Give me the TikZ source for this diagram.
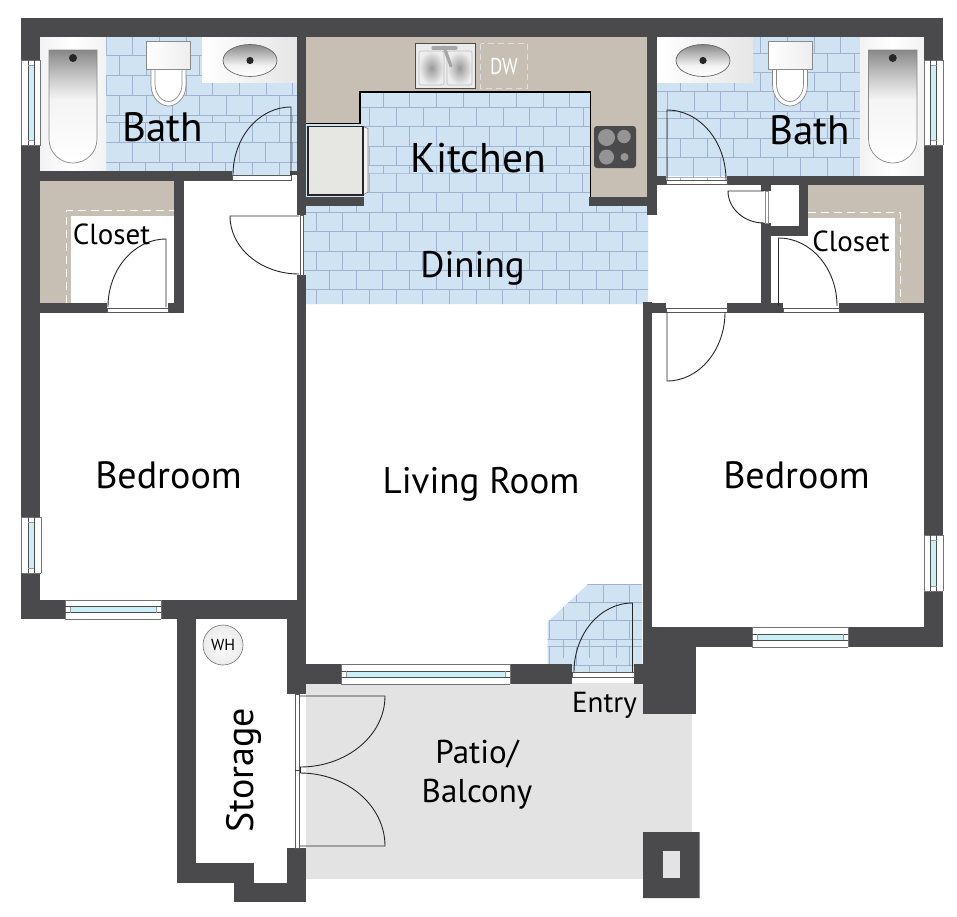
\documentclass[tikz,border=0pt]{standalone}
\usepackage{fontspec}
\setmainfont{PT Sans}
\definecolor{wallc}{HTML}{4A4A4C}
\definecolor{beige}{HTML}{C7BFB3}
\definecolor{floorblue}{HTML}{CFE3F2}
\definecolor{tileline}{HTML}{9FB3D1}
\definecolor{patioc}{HTML}{E3E3E3}
\definecolor{glass}{HTML}{C9F0F7}
\definecolor{fixedge}{HTML}{8A8A8A}
\definecolor{fridgec}{HTML}{E6E6E3}
\definecolor{tubhi}{HTML}{F4F4F4}
\definecolor{tubmid}{HTML}{E4E4E4}
\definecolor{tubdark}{HTML}{C8C8C8}
\definecolor{tubtop}{HTML}{888888}
\pgfdeclareverticalshading{tubshade}{100bp}{color(0bp)=(white);color(25bp)=(white);color(53bp)=(tubhi);color(57bp)=(tubmid);color(63bp)=(tubdark);color(75bp)=(tubtop);color(100bp)=(tubtop)}
\pgfdeclareverticalshading{basinshade}{100bp}{color(0bp)=(white);color(25bp)=(white);color(42bp)=(tubhi);color(55bp)=(tubdark);color(75bp)=(tubtop);color(100bp)=(tubtop)}
\tikzset{
  wallpart/.style={fill=wallc,draw=none},
  doorline/.style={draw=black!85,line width=0.9pt,line join=miter},
  framepart/.style={fill=white,draw=black!65,line width=0.7pt},
  winpart/.style={fill=white,draw=black!55,line width=0.7pt},
  tilepart/.style={draw=tileline,line width=0.75pt},
  fixture/.style={fill=white!97!black,draw=none},
  label/.style={inner sep=0pt,text=black},
}
\newcommand\fsz[1]{\fontsize{#1}{#1}\selectfont}
% hinge, leaf end, frame end
\newcommand\doorswing[6]{%
  \pgfmathsetmacro\cax{#3+0.5523*(#5-#1)}\pgfmathsetmacro\cay{#4+0.5523*(#6-#2)}%
  \pgfmathsetmacro\cbx{#5+0.5523*(#3-#1)}\pgfmathsetmacro\cby{#6+0.5523*(#4-#2)}%
  \draw[doorline] (#1,#2) -- (#3,#4) .. controls (\cax,\cay) and (\cbx,\cby) .. (#5,#6);}
% xa, ya, rows, row height, columns
\newcommand\tilerows[5]{%
  \foreach \k in {1,...,#3}{%
    \pgfmathsetmacro\ya{#2+(\k-1)*#4}\pgfmathsetmacro\yb{#2+\k*#4}%
    \pgfmathsetmacro\xs{#1+mod(\k-1,2)*13.33}%
    \draw[tilepart] (#1-14,\ya) -- (#1+#5*26.67,\ya);
    \foreach \j in {0,...,#5}{%
      \pgfmathsetmacro\xv{\xs+\j*26.67}%
      \draw[tilepart] (\xv,\ya) -- (\xv,\yb);
    }%
  }%
}
\newcommand\hwin[4]{%
  \fill[white] (#1,#2) rectangle (#3,#4);
  \draw[winpart] (#1,#2) -- (#3,#2) (#1,#4) -- (#3,#4) (#1,#2) -- (#1,#4) (#3,#2) -- (#3,#4);
  \pgfmathsetmacro\mya{(#2+#4)/2-3}\pgfmathsetmacro\myb{(#2+#4)/2+3}%
  \pgfmathsetmacro\mxa{#1+5}\pgfmathsetmacro\mxb{#3-5}%
  \fill[glass] (\mxa,\mya) rectangle (\mxb,\myb);
  \draw[black!70,line width=0.8pt] (#1,\mya) -- (#3,\mya) (#1,\myb) -- (#3,\myb);
  \draw[black!40,line width=0.7pt] (\mxa,\mya) -- (\mxa,\myb) (\mxb,\mya) -- (\mxb,\myb);
}
\newcommand\vwin[4]{%
  \fill[white] (#1,#2) rectangle (#3,#4);
  \draw[winpart] (#1,#2) -- (#3,#2) (#1,#4) -- (#3,#4) (#1,#2) -- (#1,#4) (#3,#2) -- (#3,#4);
  \pgfmathsetmacro\mxa{(#1+#3)/2-3}\pgfmathsetmacro\mxb{(#1+#3)/2+3}%
  \pgfmathsetmacro\mya{#2+5}\pgfmathsetmacro\myb{#4-5}%
  \fill[glass] (\mxa,\mya) rectangle (\mxb,\myb);
  \draw[black!70,line width=0.8pt] (\mxa,#2) -- (\mxa,#4) (\mxb,#2) -- (\mxb,#4);
  \draw[black!40,line width=0.7pt] (\mxa,\mya) -- (\mxb,\mya) (\mxa,\myb) -- (\mxb,\myb);
}
% toilet centred on x, tank top y
\newcommand\toilet[2]{%
  \draw[fill=white,draw=fixedge,line width=0.7pt] (#1-17.5,#2+28) -- (#1-17.5,#2+44) .. controls (#1-17.5,#2+57) and (#1-8,#2+65) .. (#1,#2+65) .. controls (#1+8,#2+65) and (#1+17.5,#2+57) .. (#1+17.5,#2+44) -- (#1+17.5,#2+28) -- cycle;
  \draw[fill=white,draw=fixedge,line width=0.7pt] (#1-13.5,#2+28) -- (#1-13.5,#2+43) .. controls (#1-13.5,#2+53) and (#1-7,#2+60.5) .. (#1,#2+60.5) .. controls (#1+7,#2+60.5) and (#1+13.5,#2+53) .. (#1+13.5,#2+43) -- (#1+13.5,#2+28);
  \shade[left color=white,right color=white!93!black,draw=fixedge,line width=0.7pt] (#1-22,#2) rectangle (#1+22,#2+28);
}
% tub x1,x2 outer, y1,y2 outer, inner x1,x2
\newcommand\tub[6]{%
  \shade[left color=white!95!black,right color=white!95!black,middle color=white] (#1,#3) rectangle (#2,#4);
  \pgfmathsetmacro\tubr{(#6-#5)/2}\pgfmathsetmacro\tubc{(#6+#5)/2}%
  \path[shading=tubshade,draw=fixedge,line width=0.7pt] (#5,50) -- (#6,50) -- (#6,139) .. controls (#6,152.5) and (\tubc+13,163) .. (\tubc,163) .. controls (\tubc-13,163) and (#5,152.5) .. (#5,139) -- cycle;
  \fill[black!85] (\tubc,58) circle (4);
}
\newcommand\basin[1]{%
  \path[shading=basinshade,draw=black!60,line width=0.7pt] (#1,60.5) ellipse (27 and 16);
  \fill[black!85] (#1,60.5) circle (3.6);
}
\begin{document}
\begin{tikzpicture}[x=1pt,y=-1pt]
\useasboundingbox (0,0) rectangle (957,916);
\fill[white] (0,0) rectangle (957,916);

% ---- floors
\fill[patioc] (306,683) rectangle (692,879);
\fill[beige] (306,37) rectangle (647,206);
\fill[beige] (40,181) rectangle (174,303);
\fill[beige] (808,185) rectangle (924,303);
\fill[white] (71,216) rectangle (174,303);
\fill[white] (808,218) rectangle (894.5,303);
\draw[white,line width=0.8pt,dash pattern=on 8pt off 5pt] (66,303) -- (66,210.5) -- (174,210.5);
\draw[white,line width=0.8pt,dash pattern=on 8pt off 5pt] (808,212) -- (900,212) -- (900,303);

% kitchen + dining tile
\fill[floorblue] (306,123.5) -- (360,123.5) -- (360,92) -- (590.5,92) -- (590.5,206) -- (648,206) -- (648,304) -- (303,304) -- (303,206) -- (306,206) -- cycle;
\begin{scope}
  \clip (360,92) rectangle (590.5,173.3);
  \tilerows{303}{87.9}{5}{19.4}{12}
\end{scope}
\begin{scope}
  \clip (306,123.5) -- (360,123.5) -- (360,173.3) -- (590.5,173.3) -- (590.5,206) -- (648,206) -- (648,304) -- (303,304) -- (303,206) -- (306,206) -- cycle;
  \tilerows{289.4}{173.3}{7}{19.4}{15}
\end{scope}
\begin{scope}
  \clip (306,123.5) rectangle (360,173.3);
  \tilerows{303}{87.9}{5}{19.4}{5}
\end{scope}

% left bath tile
\fill[floorblue] (106,37) rectangle (297,175);
\begin{scope}
  \clip (106,37) rectangle (297,122);
  \tilerows{106}{35.7}{5}{20}{8}
\end{scope}
\begin{scope}
  \clip (106,122) rectangle (297,175);
  \tilerows{92.3}{122}{3}{20}{9}
\end{scope}
% right bath tile
\fill[floorblue] (657,37) rectangle (860,176);
\begin{scope}
  \clip (657,37) rectangle (860,118.3);
  \tilerows{654}{33.6}{5}{19.4}{8}
\end{scope}
\begin{scope}
  \clip (657,118.3) rectangle (860,180);
  \tilerows{640.3}{118.3}{4}{19.6}{9}
\end{scope}
% entry tile
\fill[floorblue] (588,584) -- (642,584) -- (642,672) -- (572,672) -- (572,664) -- (547.5,664) -- (547.5,622) -- cycle;
\begin{scope}
  \clip (588,584) -- (642,584) -- (642,672) -- (572,672) -- (572,664) -- (547.5,664) -- (547.5,622) -- cycle;
  \tilerows{523}{584}{4}{18.4}{5}
  \tilerows{523}{646.5}{2}{18.4}{5}
\end{scope}

% ---- fixtures: left bath
\tub{40}{106}{37}{171}{49}{97}
\toilet{168.5}{41}
\shade[left color=white,right color=white!90!black] (202,37) rectangle (297,82);
\basin{250}
% right bath
\tub{860}{924}{37}{176}{868.5}{917}
\toilet{790}{41}
\shade[left color=white,right color=white!90!black] (657,37) rectangle (753,82);
\basin{703}

% kitchen fittings
\draw[black,line width=1.2pt] (306,123.5) -- (360,123.5) -- (360,92) -- (590.5,92) -- (590.5,197);
\draw[fill=white!92!black,draw=black!70,line width=0.7pt] (415.5,43.5) rectangle (475,88);
\foreach \sx/\n in {419/sinka,447/sinkb}{
  \draw[rounded corners=2pt,inner color=black!40,outer color=white!93!black,draw=black!25,line width=0.6pt] (\sx,51) rectangle (\sx+25,85);
}
\draw[black!35,line width=3.2pt,line cap=round] (433,48) -- (456,48);
\draw[black!35,line width=3.2pt,line cap=round] (444,47) -- (451,66);
\draw[white!88!black,line width=0.7pt,dash pattern=on 6pt off 4pt] (480.5,43.5) rectangle (527.5,88);
\node[label,text=white,font=\fsz{23},xscale=0.82] (dw) at (504,66.5) {DW};
% fridge
\fill[floorblue] (306,124) rectangle (364,197);
\draw[fill=white!95!black,draw=black!50,line width=0.6pt] (363,126.5) -- (368,128.5) -- (368,192) -- (363,195) -- cycle;
\draw[fill=fridgec,draw=black!85,line width=1.1pt] (308,126.5) rectangle (363,195);
% stove
\fill[wallc,rounded corners=3pt] (594,126) rectangle (636,168);
\fill[black!42] (606.5,137.5) circle (8.5) (624,136.5) circle (6.7) (606.5,157) circle (7.5) (624.5,157) circle (4);

% ---- walls
\begin{scope}[wallpart]
\fill[wallc] (21,18) rectangle (943,37);           % top
\fill[wallc] (21,18) rectangle (40,517);           % left upper
\fill[wallc] (21,573) rectangle (40,619);          % left lower
\fill[wallc] (21,600) rectangle (306,619);         % bedroom bottom
\fill[wallc] (924,18) rectangle (943,647);         % right
\fill[wallc] (40,171) rectangle (232,181);         % left bath bottom
\fill[wallc] (290,171) rectangle (297,175);
\fill[wallc] (297,37) rectangle (306,215);
\fill[wallc] (297,275) rectangle (306,664);
\fill[wallc] (174,181) rectangle (184,313);
\fill[wallc] (40,303) rectangle (107,313);
\fill[wallc] (168,303) rectangle (184,313);
\fill[wallc] (306,197) rectangle (364,206);
\fill[wallc] (589,197) rectangle (647,206);
\fill[wallc] (647,37) rectangle (657,215);
\fill[wallc] (657,176) rectangle (666,185);
\fill[wallc] (727,176) rectangle (924,185);
\fill[wallc] (761,185) rectangle (771,191);
\fill[wallc] (761,223) rectangle (771,313);
\fill[wallc] (771,226) rectangle (808,235.5);
\fill[wallc] (799,185) rectangle (808,235.5);
\fill[wallc] (642.5,301.5) rectangle (652,313);
\fill[wallc] (642.5,303) rectangle (666,313);
\fill[wallc] (727,303) rectangle (783,313);
\fill[wallc] (839,303) rectangle (924,313);
\fill[wallc] (642.5,303) rectangle (652,714);
\fill[wallc] (642.5,627) rectangle (943,647);
\fill[wallc] (642.5,647) rectangle (696,714);
\fill[wallc] (287,619) rectangle (306,694);
\fill[wallc] (287,664) rectangle (341,684);
\fill[wallc] (510,664) rectangle (572,683.5);
\fill[wallc] (633.5,664) rectangle (642.5,683.5);
\fill[wallc] (177,600) rectangle (196,883);
\fill[wallc] (177,863) rectangle (254,883);
\fill[wallc] (234,883) rectangle (306,902);
\fill[wallc] (287,848) rectangle (306,883);
\fill[wallc,even odd rule] (643,832) rectangle (699.5,898) (663,851) rectangle (680,878);
\end{scope}
\fill[patioc] (663,851) rectangle (680,878);

% ---- windows
\vwin{21.5}{60}{40.5}{145}
\vwin{924}{60}{943}{145}
\vwin{21.5}{517}{41}{573}
\vwin{924}{535}{943}{591}
\hwin{65}{600}{161}{619}
\hwin{752}{627}{848}{647}
\hwin{341}{664}{510}{684}

% ---- door frames
\draw[framepart] (232,175) rectangle (291.5,180);
\draw[framepart] (107,308) rectangle (168,312);
\draw[framepart] (300,215) rectangle (303.5,275);
\draw[framepart] (666,180.5) rectangle (727,184.5);
\draw[fill=white,draw=black!45,line width=0.7pt] (765,191) rectangle (768,223);
\draw[framepart] (666,308) rectangle (727,312.5);
\draw[framepart] (783,308) rectangle (839,312.5);
\draw[framepart] (572,672) rectangle (634,677);
\draw[framepart] (295,694) rectangle (299.5,848);
\draw[black!75,line width=0.9pt] (295,770.5) -- (300,770.5);

% ---- door swings
\doorswing{291}{175}{291}{107}{233}{175}
\doorswing{166}{307}{166}{239}{108}{307}
\doorswing{299}{216}{230}{216}{299}{274}
\doorswing{667}{180}{667}{110}{726}{180}
\doorswing{764}{191}{728}{191}{764}{223}
\doorswing{778.5}{306}{778.5}{238}{837}{306}
\doorswing{667}{312}{667}{381}{725}{312}
\doorswing{632.5}{672}{632.5}{603}{574}{672}
\doorswing{300}{696}{385}{696}{300}{767}
\doorswing{300}{846}{385}{846}{300}{773}
\draw[doorline] (300,767) -- (300,773);

% water heater
\draw[inner color=white,outer color=white!92!black,draw=black!55,line width=0.6pt] (223,645) circle (20);

% ---- labels
\node[label,font=\fsz{16}] (wh) at (223,645) {WH};
\node[label,font=\fsz{41}] (bathl) at (163,127) {Bath};
\node[label,font=\fsz{41}] (bathr) at (810,130.5) {Bath};
\node[label,font=\fsz{41.5}] (kitchen) at (478.5,158) {Kitchen};
\node[label,font=\fsz{37}] (dining) at (472.5,268.5) {Dining};
\node[label,font=\fsz{29}] (closetl) at (111.5,234.5) {Closet};
\node[label,font=\fsz{29}] (closetr) at (851,241.5) {Closet};
\node[label,font=\fsz{38}] (bedl) at (168.5,475.5) {Bedroom};
\node[label,font=\fsz{38}] (bedr) at (796.5,475.5) {Bedroom};
\node[label,font=\fsz{37}] (living) at (481,484) {Living Room};
\node[label,font=\fsz{29}] (entry) at (604.5,705.5) {Entry};
\node[label,font=\fsz{33},align=center] (patio) at (477,775) {Patio/\\[6pt]Balcony};
\node[label,font=\fsz{38},rotate=90] (storage) at (244,770) {Storage};
\end{tikzpicture}
\end{document}
